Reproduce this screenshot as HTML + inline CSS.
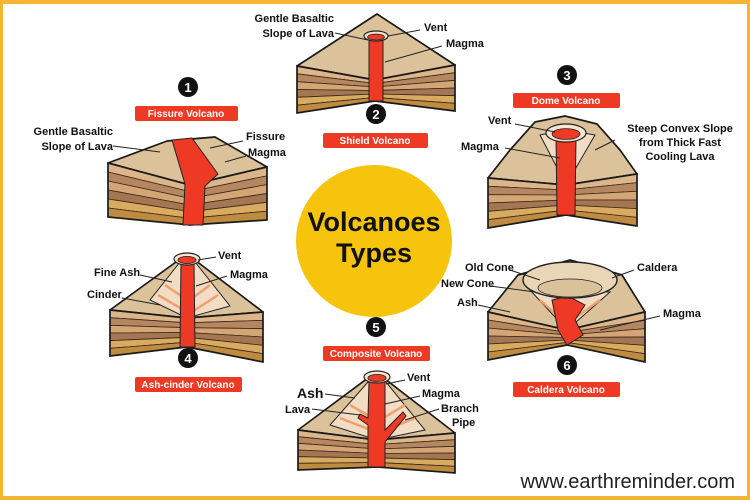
<!DOCTYPE html>
<html><head><meta charset="utf-8"><style>
html,body{margin:0;padding:0;background:#fff}
svg{display:block}
text{font-family:"Liberation Sans",Arial,sans-serif;font-weight:bold;fill:#111}
.l{font-size:11px}
.p{font-size:10px;fill:#fff}
.n{font-size:13px;fill:#fff}
</style></head><body>
<svg id="s" width="750" height="500" viewBox="0 0 750 500" xmlns="http://www.w3.org/2000/svg">
<rect x="0" y="0" width="750" height="500" fill="#f6b530"/>
<rect x="3" y="4" width="744" height="492" fill="#fff"/>
<g id="blocks"></g>
<ellipse cx="374" cy="241" rx="78" ry="76" fill="#f6c40c"/>
<text x="374" y="231" text-anchor="middle" style="font-size:27px">Volcanoes</text>
<text x="374" y="262" text-anchor="middle" style="font-size:27px">Types</text>
<g stroke="#222" stroke-width="1" fill="none">
<path d="M113,146 L160,152"/><path d="M243,141 L210,148"/><path d="M246,156 L225,162"/>
<path d="M335,33 L368,40"/><path d="M420,30 L388,36"/><path d="M442,46 L385,62"/>
<path d="M515,124 L555,132"/><path d="M505,148 L560,158"/><path d="M615,140 L595,150"/>
<path d="M216,257 L198,260"/><path d="M140,275 L172,282"/><path d="M227,276 L196,286"/><path d="M122,298 L160,305"/>
<path d="M325,394 L355,398"/><path d="M312,409 L360,415"/><path d="M405,380 L386,384"/><path d="M420,396 L385,404"/><path d="M439,409 L405,420"/>
<path d="M510,270 L540,280"/><path d="M490,286 L535,292"/><path d="M478,305 L510,312"/><path d="M634,270 L612,278"/><path d="M660,316 L600,330"/>
</g>
<text class="l" x="113" y="135" text-anchor="end">Gentle Basaltic</text>
<text class="l" x="113" y="150" text-anchor="end">Slope of Lava</text>
<text class="l" x="246" y="140">Fissure</text>
<text class="l" x="248" y="156">Magma</text>
<text class="l" x="334" y="22" text-anchor="end">Gentle Basaltic</text>
<text class="l" x="334" y="37" text-anchor="end">Slope of Lava</text>
<text class="l" x="424" y="31">Vent</text>
<text class="l" x="446" y="47">Magma</text>
<text class="l" x="488" y="124">Vent</text>
<text class="l" x="461" y="150">Magma</text>
<text class="l" x="680" y="132" text-anchor="middle">Steep Convex Slope</text>
<text class="l" x="680" y="146" text-anchor="middle">from Thick Fast</text>
<text class="l" x="680" y="160" text-anchor="middle">Cooling Lava</text>
<text class="l" x="218" y="259">Vent</text>
<text class="l" x="94" y="276">Fine Ash</text>
<text class="l" x="230" y="278">Magma</text>
<text class="l" x="87" y="298">Cinder</text>
<text x="297" y="398" style="font-size:14px">Ash</text>
<text class="l" x="285" y="413">Lava</text>
<text class="l" x="407" y="381">Vent</text>
<text class="l" x="422" y="397">Magma</text>
<text class="l" x="441" y="412">Branch</text>
<text class="l" x="452" y="426">Pipe</text>
<text class="l" x="465" y="271">Old Cone</text>
<text class="l" x="441" y="287">New Cone</text>
<text class="l" x="457" y="306">Ash</text>
<text class="l" x="637" y="271">Caldera</text>
<text class="l" x="663" y="317">Magma</text>
<text x="735" y="488" text-anchor="end" style="font-size:20px;font-weight:normal;fill:#222">www.earthreminder.com</text>
<g>
<rect x="135" y="106" width="103" height="15" rx="2" fill="#ee3a24"/><text class="p" x="186" y="117" text-anchor="middle">Fissure Volcano</text>
<circle cx="188" cy="87" r="10" fill="#111"/><text class="n" x="188" y="92" text-anchor="middle">1</text>
<rect x="323" y="133" width="105" height="15" rx="2" fill="#ee3a24"/><text class="p" x="375" y="144" text-anchor="middle">Shield Volcano</text>
<circle cx="376" cy="114" r="10" fill="#111"/><text class="n" x="376" y="119" text-anchor="middle">2</text>
<rect x="513" y="93" width="107" height="15" rx="2" fill="#ee3a24"/><text class="p" x="566" y="104" text-anchor="middle">Dome Volcano</text>
<circle cx="567" cy="75" r="10" fill="#111"/><text class="n" x="567" y="80" text-anchor="middle">3</text>
<rect x="135" y="377" width="107" height="15" rx="2" fill="#ee3a24"/><text class="p" x="188" y="388" text-anchor="middle">Ash-cinder Volcano</text>
<circle cx="188" cy="358" r="10" fill="#111"/><text class="n" x="188" y="363" text-anchor="middle">4</text>
<rect x="323" y="346" width="107" height="15" rx="2" fill="#ee3a24"/><text class="p" x="376" y="357" text-anchor="middle">Composite Volcano</text>
<circle cx="376" cy="327" r="10" fill="#111"/><text class="n" x="376" y="332" text-anchor="middle">5</text>
<rect x="513" y="382" width="107" height="15" rx="2" fill="#ee3a24"/><text class="p" x="566" y="393" text-anchor="middle">Caldera Volcano</text>
<circle cx="567" cy="365" r="10" fill="#111"/><text class="n" x="567" y="370" text-anchor="middle">6</text>
</g>
</svg>
<script>
(function(){
var NS="http://www.w3.org/2000/svg",g=document.getElementById("blocks");
function el(t,a){var e=document.createElementNS(NS,t);for(var k in a)e.setAttribute(k,a[k]);g.appendChild(e);return e;}
var cols=["#ddb58a","#b58660","#d4a676","#a47652","#d8ab60","#bf8b40"];
function lerp(a,b,t){return a+(b-a)*t;}
function face(x1,t1,b1,x2,t2,b2){
 var n=cols.length;
 for(var i=0;i<n;i++){
  var f0=i/n,f1=(i+1)/n;
  el("polygon",{points:[x1,lerp(t1,b1,f0),x2,lerp(t2,b2,f0),x2,lerp(t2,b2,f1),x1,lerp(t1,b1,f1)].join(","),fill:cols[i],stroke:"#3a2a1a","stroke-width":"0.8"});
 }
 el("polygon",{points:[x1,t1,x2,t2,x2,b2,x1,b1].join(","),fill:"none",stroke:"#1a1a1a","stroke-width":"1.7"});
}
function vol(o){
 el("polygon",{points:o.top,fill:"#dcc29a",stroke:"#1a1a1a","stroke-width":"1.7","stroke-linejoin":"round"});
 if(o.cut) el("polygon",{points:o.cut,fill:"#f2dcc4",stroke:"#222","stroke-width":"1"});
 if(o.cutStripes){o.cutStripes.forEach(function(p){el("path",{d:p,stroke:"#f0a070","stroke-width":"2.5",fill:"none"});});}
 face(o.L,o.Lt,o.Lb,o.N,o.Nt,o.Nb);
 face(o.N,o.Nt,o.Nb,o.R,o.Rt,o.Rb);
 o.magma.forEach(function(p){el("path",{d:p,fill:"#ee3a24",stroke:"#222","stroke-width":"1"});});
 if(o.vent){var v=o.vent;el("ellipse",{cx:v[0],cy:v[1],rx:v[2],ry:v[3],fill:"#f4e6d0",stroke:"#222","stroke-width":"1.2"});
  el("ellipse",{cx:v[0],cy:v[1]+1,rx:v[2]*0.7,ry:v[3]*0.6,fill:"#ee3a24",stroke:"#222","stroke-width":"0.8"});}
}
vol({top:"108,163 167,141 215,137 267,167 190,185",L:108,Lt:163,Lb:217,N:190,Nt:185,Nb:225,R:267,Rt:167,Rb:220,
 magma:["M172,140 L192,138 L218,174 L205,186 L203,225 L183,225 L185,184 Z"]});
vol({top:"297,66 377,14 455,65 375,80",L:297,Lt:66,Lb:113,N:375,Nt:80,Nb:101,R:455,Rt:65,Rb:111,
 magma:["M369,38 L383,38 L383,101 L369,101 Z"],vent:[376,36,12,5]});
vol({top:"488,178 510,150 535,122 565,116 597,124 620,150 637,174 566,185",L:488,Lt:178,Lb:228,N:566,Nt:185,Nb:215,R:637,Rt:174,Rb:226,
 cut:"540,135 566,185 595,135 566,130",
 magma:["M556,136 L576,136 L575,215 L557,215 Z"],vent:[566,133,20,9]});
vol({top:"110,310 187,254 263,312 187,318",L:110,Lt:310,Lb:356,N:187,Nt:318,Nb:347,R:263,Rt:312,Rb:362,
 cut:"180,262 150,300 187,318 230,306 195,262",
 cutStripes:["M165,285 L187,300","M158,295 L187,312","M210,285 L190,300","M218,295 L192,312"],
 magma:["M181,260 L194,260 L195,347 L180,347 Z"],vent:[187,259,13,6]});
vol({top:"298,430 376,372 455,433 377,440",L:298,Lt:430,Lb:470,N:377,Nt:440,Nb:467,R:455,Rt:433,Rb:473,
 cut:"368,382 330,425 377,440 425,430 386,382",
 cutStripes:["M350,405 L376,420","M340,418 L376,432","M405,405 L380,420","M415,418 L382,432"],
 magma:["M369,380 L385,380 L385,430 L403,412 L406,416 L385,442 L385,467 L368,467 L368,425 L358,418 L360,414 L368,418 Z"],vent:[377,377,13,6]});
vol({top:"488,312 518,275 570,260 622,275 645,312 567,330",L:488,Lt:312,Lb:360,N:567,Nt:330,Nb:345,R:645,Rt:312,Rb:362,
 cut:"530,290 567,330 610,292",
 cutStripes:["M540,300 L560,318","M600,300 L575,318"],
 magma:["M552,300 L568,296 L585,305 L575,320 L583,335 L567,345 L558,330 Z"]});
el("ellipse",{cx:570,cy:280,rx:47,ry:18,fill:"#e8d6b6",stroke:"#222","stroke-width":"1.4"});
el("ellipse",{cx:570,cy:288,rx:32,ry:9,fill:"#d9c29a",stroke:"#222","stroke-width":"0.8"});
})();
</script>
</body></html>
